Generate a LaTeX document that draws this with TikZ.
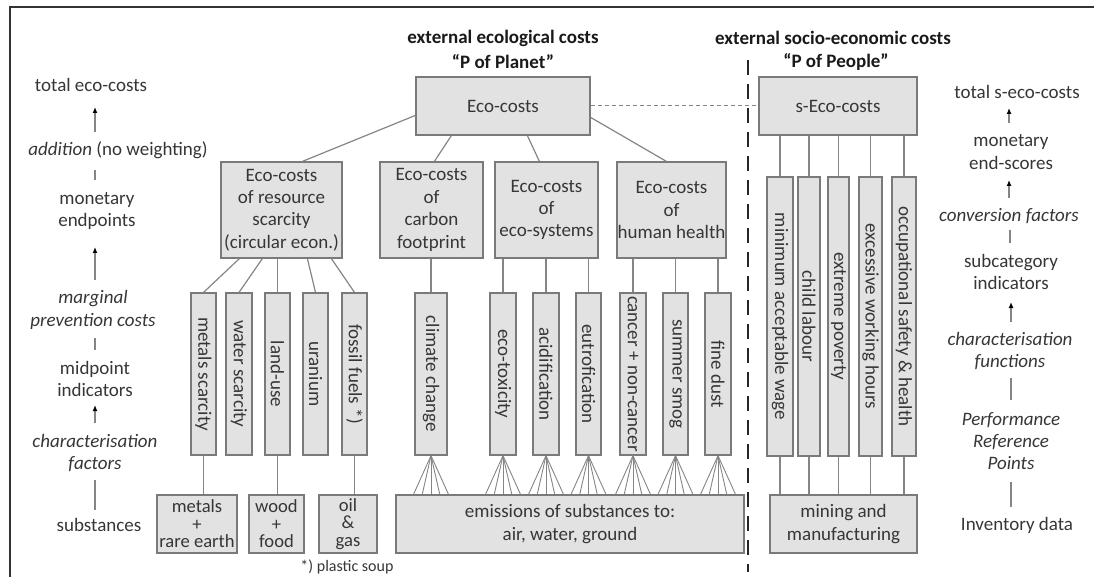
\documentclass[tikz,border=0pt]{standalone}
\usepackage{fontspec}
\setmainfont{Carlito}
\usetikzlibrary{arrows.meta,calc}
\definecolor{boxfill}{HTML}{E2E2E2}
\definecolor{boxline}{HTML}{7A7A7A}
\definecolor{conn}{HTML}{858585}
\definecolor{txt}{HTML}{363636}
\newcommand\mainsz{\fontsize{19}{22.4}\selectfont}
\newcommand\tightsz{\fontsize{18.6}{17.5}\selectfont}
\newcommand\smallsz{\fontsize{16}{19}\selectfont}

\begin{document}
\begin{tikzpicture}[x=1pt,y=-1pt,
  every node/.style={text=txt, font=\mainsz, inner sep=0pt},
  box/.style={draw=boxline, fill=boxfill, line width=1.2pt, align=center},
  vbar/.style={box, rotate=-90, minimum width=162pt, minimum height=25pt},
  sbar/.style={box, rotate=-90, minimum width=279pt},
  lbl/.style={align=center},
  itl/.style={align=center, font=\mainsz\itshape},
  hdr/.style={font=\mainsz\bfseries, text=black!90},
  ln/.style={draw=conn, line width=1.2pt},
  fan/.style={draw=conn, line width=0.9pt},
  arr/.style={ln, -{Latex[length=6pt,width=5pt,color=black]}}
]
\useasboundingbox (0,0) rectangle (1094,577);

% frame
\coordinate (fbl) at (10,577);
\coordinate (ftl) at (10,7.5);
\coordinate (ftr) at (1094,7.5);
\draw[line width=2pt, black!80] (fbl) -- (ftl) -- (ftr);

% headings
\node[hdr] (h1) at (503,38) {external ecological costs};
\node[hdr] (h2) at (503,62) {“P of Planet”};
\node[hdr] (h3) at (833,38) {external socio-economic costs};
\node[hdr] (h4) at (836,62) {“P of People”};

% top level
\node[box, minimum width=174pt, minimum height=58pt] (eco) at (503,106) {Eco-costs};
\node[box, minimum width=158pt, minimum height=58pt] (seco) at (838,106) {s-Eco-costs};

% second level
\node[box, minimum width=121pt, minimum height=96pt] (res) at (281.5,210) {Eco-costs\\of resource\\scarcity\\(circular econ.)};
\node[box, minimum width=103pt, minimum height=96pt] (carb) at (431.5,210) {Eco-costs\\of\\carbon\\footprint};
\node[box, minimum width=103pt, minimum height=96pt] (esys) at (546.5,210) {Eco-costs\\of\\eco-systems};
\node[box, minimum width=109pt, minimum height=96pt] (hh) at (671.5,210) {Eco-costs\\of\\human health};

% midpoint categories
\node[vbar] (ms) at (203.5,374) {metals scarcity};
\node[vbar, minimum height=26pt] (ws) at (239,374) {water scarcity};
\node[vbar] (lu) at (277.5,374) {land-use};
\node[vbar] (ur) at (315.5,374) {uranium};
\node[vbar] (ff) at (354.5,374) {fossil fuels *)};
\node[vbar, minimum height=32pt] (cc) at (431,374) {climate change};
\node[vbar, minimum height=26pt] (et) at (503,374) {eco-toxicity};
\node[vbar, minimum height=26pt] (ac) at (546,374) {acidification};
\node[vbar] (eu) at (588.5,374) {eutrofication};
\node[vbar, minimum height=26pt] (ca) at (633,374) {cancer + non-cancer};
\node[vbar] (sm) at (675.5,374) {summer smog};
\node[vbar, minimum height=26pt] (fd) at (718,374) {fine dust};

% social subcategories
\node[sbar, minimum height=26pt] (mw) at (780,316.5) {minimum acceptable wage};
\node[sbar, minimum height=22pt] (cl) at (809,316.5) {child labour};
\node[sbar, minimum height=21pt] (ep) at (838.5,316.5) {extreme poverty};
\node[sbar, minimum height=23pt] (ew) at (870.5,316.5) {excessive working hours};
\node[sbar, minimum height=24pt] (os) at (904,316.5) {occupational safety \& health};

% inventory level
\node[box, font=\tightsz, minimum width=80pt, minimum height=58pt] (rare) at (197,524) {metals\\+\\rare earth};
\node[box, font=\tightsz, minimum width=55pt, minimum height=58pt] (wood) at (276.5,524) {wood\\+\\food};
\node[box, font=\tightsz, minimum width=58pt, minimum height=58pt] (oil) at (348,524) {oil\\\&\\gas};
\node[box, minimum width=348pt, minimum height=58pt] (emis) at (570,524) {emissions of substances to:\\air, water, ground};
\node[box, minimum width=147pt, minimum height=58pt] (mining) at (843.5,524) {mining and\\manufacturing};
\node[font=\smallsz] (ps) at (347,567) {*) plastic soup};

% top to second level
\draw[ln] ($(eco.north west)+(0,39)$) -- ($(res.north west)+(82,0)$);
\draw[ln] ($(eco.south west)+(36,0)$) -- ($(carb.north west)+(55,0)$);
\draw[ln] ($(eco.south west)+(112,0)$) -- ($(esys.north west)+(45,0)$);
\draw[ln] ($(eco.north east)+(0,41)$) -- ($(hh.north west)+(50,0)$);
\draw[draw=conn, line width=1pt, dash pattern=on 4pt off 3pt] (eco.east) -- (seco.west);

% second level to midpoints
\draw[ln] ($(res.south west)+(19,0)$) -- (ms.west);
\draw[ln] ($(res.south west)+(42,0)$) -- (ws.west);
\draw[ln] (lu.west |- res.south) -- (lu.west);
\draw[ln] ($(res.south west)+(87,0)$) -- (ur.west);
\draw[ln] ($(res.south west)+(111,0)$) -- (ff.west);
\draw[ln] (cc.west |- carb.south) -- (cc.west);
\foreach \v in {et,ac,eu} \draw[ln] (\v.west |- esys.south) -- (\v.west);
\foreach \v in {ca,sm,fd} \draw[ln] (\v.west |- hh.south) -- (\v.west);
\foreach \v in {mw,cl,ep,ew,os} {
  \draw[ln] (\v.west |- seco.south) -- (\v.west);
  \draw[ln] (\v.east) -- (\v.east |- mining.north);
}

% midpoints to inventory
\draw[ln] (ms.east) -- (ms.east |- rare.north);
\draw[ln] (lu.east) -- (lu.east |- wood.north);
\draw[ln] (ff.east) -- (ff.east |- oil.north);
\foreach \v in {cc,et,ac,eu,ca,sm,fd}
  \foreach \d in {-17.5,-8.75,0,8.75,17.5}
    \draw[fan] (\v.east) -- ($(\v.east |- emis.north)+(\d,0)$);

% separator
\coordinate (st) at (748,60);
\coordinate (sb) at (748,572);
\draw[line width=2.4pt, black!85, dash pattern=on 15pt off 9pt] (st) -- (sb);

% left column
\node[lbl] (l1) at (91,85) {total eco-costs};
\node[lbl] (l2) at (118,150) {\textit{addition} (no weighting)};
\node[lbl] (l3) at (97,211) {monetary\\endpoints};
\node[itl] (l4) at (93,310) {marginal\\prevention costs};
\node[lbl] (l5) at (95,379) {midpoint\\indicators};
\node[itl] (l6) at (95,453) {characterisation\\factors};
\node[lbl] (l7) at (99,525) {substances};
\coordinate (la1t) at (95,107);  \coordinate (la1b) at (95,132);
\coordinate (lt1t) at (95,170);  \coordinate (lt1b) at (95,180);
\coordinate (la2t) at (95,247);  \coordinate (la2b) at (95,280);
\coordinate (lt2t) at (95,338);  \coordinate (lt2b) at (95,350);
\coordinate (la3t) at (95,405);  \coordinate (la3b) at (95,423);
\coordinate (lt3t) at (95,480);  \coordinate (lt3b) at (95,510);
\draw[arr] (la1b) -- (la1t);
\draw[ln] (lt1t) -- (lt1b);
\draw[arr] (la2b) -- (la2t);
\draw[ln] (lt2t) -- (lt2b);
\draw[arr] (la3b) -- (la3t);
\draw[ln] (lt3t) -- (lt3b);

% right column
\node[lbl] (r1) at (1017,92) {total s-eco-costs};
\node[lbl] (r2) at (1011,152) {monetary\\end-scores};
\node[itl] (r3) at (1009,216) {conversion factors};
\node[lbl] (r4) at (1011,272) {subcategory\\indicators};
\node[itl] (r5) at (1010,351) {characterisation\\functions};
\node[itl] (r6) at (1011,441) {Performance\\Reference\\Points};
\node[lbl] (r7) at (1017,525) {Inventory data};
\coordinate (ra1t) at (1009,108); \coordinate (ra1b) at (1009,123);
\coordinate (ra2t) at (1009,180); \coordinate (ra2b) at (1009,198);
\coordinate (rt1t) at (1010,230); \coordinate (rt1b) at (1010,243);
\coordinate (ra3t) at (1011,302); \coordinate (ra3b) at (1011,322);
\coordinate (rt2t) at (1011,378); \coordinate (rt2b) at (1011,400);
\coordinate (rt3t) at (1011,482); \coordinate (rt3b) at (1011,507);
\draw[arr] (ra1b) -- (ra1t);
\draw[arr] (ra2b) -- (ra2t);
\draw[ln] (rt1t) -- (rt1b);
\draw[arr] (ra3b) -- (ra3t);
\draw[ln] (rt2t) -- (rt2b);
\draw[ln] (rt3t) -- (rt3b);
\end{tikzpicture}
\end{document}
